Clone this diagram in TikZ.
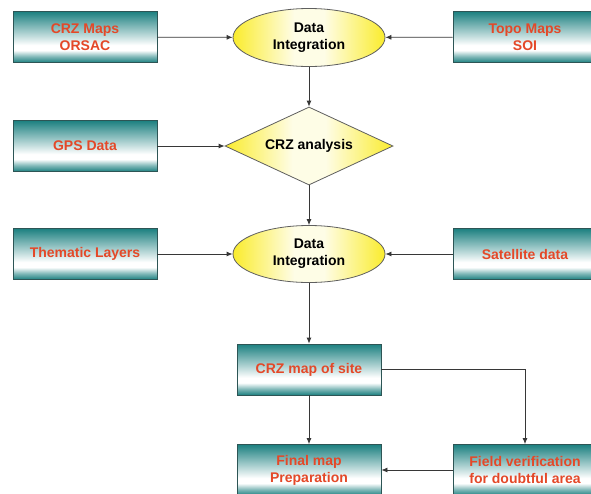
\documentclass[tikz,border=0pt]{standalone}
\usepackage{fontspec}
\setmainfont{Liberation Sans}
\usetikzlibrary{shapes.geometric,arrows.meta}
\definecolor{boxteal}{RGB}{28,128,128}
\definecolor{boxedge}{RGB}{45,85,85}
\definecolor{ylw}{RGB}{250,236,45}
\definecolor{redtxt}{RGB}{228,72,40}
\definecolor{linegray}{RGB}{55,55,55}
\pgfdeclareverticalshading{tealbox}{100bp}{color(0bp)=(boxteal); color(25bp)=(boxteal); color(31bp)=(boxteal!55!white); color(37bp)=(white); color(42bp)=(white); color(75bp)=(boxteal); color(100bp)=(boxteal)}
\pgfdeclarehorizontalshading{ylwshade}{100bp}{color(0bp)=(ylw); color(25bp)=(ylw); color(45bp)=(ylw!12!white); color(55bp)=(ylw!12!white); color(75bp)=(ylw); color(100bp)=(ylw)}
\tikzset{
  tbox/.style={rectangle, draw=boxedge, line width=0.8pt, shading=tealbox,
    minimum width=144pt, minimum height=51pt, inner sep=2pt, align=center,
    text=redtxt, font=\fontsize{14}{17}\selectfont\bfseries},
  ell/.style={ellipse, draw=linegray!80, line width=0.8pt, shading=ylwshade,
    minimum width=152pt, minimum height=58pt, inner sep=0pt, align=center,
    font=\fontsize{14}{17}\selectfont\bfseries},
  dia/.style={diamond, draw=linegray!80, line width=0.8pt, shading=ylwshade,
    minimum width=168pt, minimum height=78pt, inner sep=0pt, aspect=2.15, align=center,
    font=\fontsize{14}{17}\selectfont\bfseries},
  arr/.style={draw=linegray, line width=0.8pt, -{Latex[length=6pt,width=5pt]}}
}
\begin{document}
\begin{tikzpicture}[x=1pt,y=-1pt]
\useasboundingbox (0,0) rectangle (591,493);
\clip (0,0) rectangle (591,493);
\fill[white] (0,0) rectangle (591,493);
\node[tbox] (crz) at (85,37) {CRZ Maps\\ORSAC};
\node[ell] (di1) at (309,37.5) {Data\\Integration};
\node[tbox] (topo) at (525,37) {Topo Maps\\SOI};
\node[tbox] (gps) at (85,146) {GPS Data};
\node[dia] (ana) at (309,146) {CRZ analysis};
\node[tbox] (them) at (85,254) {Thematic Layers};
\node[ell, minimum height=57pt] (di2) at (309,254) {Data\\Integration};
\node[tbox] (sat) at (525,254) {Satellite data};
\node[tbox] (site) at (309,369.5) {CRZ map of site};
\node[tbox] (final) at (309,470) {Final map\\Preparation};
\node[tbox] (field) at (525,470) {Field verification\\for doubtful area};
\draw[arr] (crz) -- (di1);
\draw[arr] (topo) -- (di1);
\draw[arr] (di1) -- (ana);
\draw[arr] (gps) -- (ana);
\draw[arr] (ana) -- (di2);
\draw[arr] (them) -- (di2);
\draw[arr] (sat) -- (di2);
\draw[arr] (di2) -- (site);
\draw[arr] (site) -- (final);
\draw[arr] (site.east) -| (field.north);
\draw[arr] (field) -- (final);
\end{tikzpicture}
\end{document}
